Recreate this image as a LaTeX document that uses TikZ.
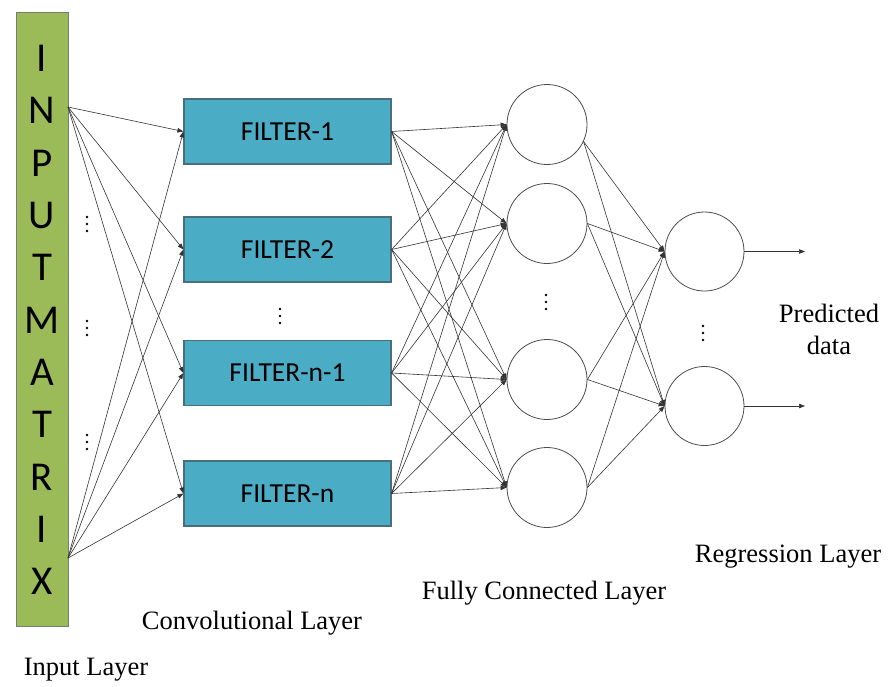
\documentclass[tikz,border=0pt]{standalone}
\usepackage{fontspec}
\setmainfont{Liberation Serif}
\newfontfamily\timesfont{Liberation Serif}
\newfontfamily\calfont{Carlito}
\usetikzlibrary{arrows.meta}
\definecolor{ingreen}{HTML}{9BBB59}
\definecolor{inborder}{HTML}{7A7A7A}
\definecolor{filterfill}{HTML}{4BACC6}
\definecolor{filterborder}{HTML}{4A6F7C}
\definecolor{linegray}{HTML}{333333}
\begin{document}
\begin{tikzpicture}[x=1pt,y=-1pt,
  inbox/.style={draw=inborder, line width=1pt, fill=ingreen, minimum width=52pt, minimum height=614pt, inner sep=0pt},
  letter/.style={font=\calfont\fontsize{41}{41}\selectfont, inner sep=0pt},
  filterbox/.style={draw=filterborder, line width=1.2pt, fill=filterfill, minimum width=207pt, minimum height=65pt, inner sep=0pt, font=\calfont\fontsize{27.5}{27.5}\selectfont},
  neuron/.style={circle, draw=black!70, line width=0.8pt, minimum size=80pt, inner sep=0pt},
  rneuron/.style={circle, draw=black!70, line width=0.8pt, minimum size=79pt, inner sep=0pt},
  conn/.style={draw=linegray, line width=0.6pt, -{Triangle[length=6pt,width=4.5pt]}},
  label/.style={font=\timesfont\fontsize{26.5}{32}\selectfont, inner sep=0pt, align=center},
  dot/.style={fill=black}
]
\useasboundingbox (0,0) rectangle (889,686);

% input matrix
\node[inbox] (in) at (42,319) {};
\foreach \ch [count=\i from 0] in {I,N,P,U,T,M,A,T,R,I,X} {
  \node[letter] (l\i) at (42,{58.5+52.3*\i}) {\ch};
}
\coordinate (inT) at (68,107);
\coordinate (inB) at (68,558);

% dots near input
\foreach \y in {224,328,442} {
  \foreach \d in {-7,0,7} \fill[dot] (87,\y+\d) circle (1.4pt);
}

% filters
\node[filterbox] (f1) at (287.5,131.5) {FILTER-1};
\node[filterbox] (f2) at (287.5,249.5) {FILTER-2};
\node[filterbox] (f3) at (287.5,373) {FILTER-n-1};
\node[filterbox] (f4) at (287.5,493.5) {FILTER-n};
\foreach \d in {-7,0,7} \fill[dot] (280,316+\d) circle (1.4pt);

% fully connected neurons
\node[neuron] (c1) at (547,124.5) {};
\node[neuron] (c2) at (547,223.5) {};
\node[neuron] (c3) at (547,379.5) {};
\node[neuron] (c4) at (547,487.5) {};
\foreach \d in {-7,0,7} \fill[dot] (546,302+\d) circle (1.4pt);

% regression neurons
\node[rneuron] (r1) at (704.5,251.5) {};
\node[rneuron] (r2) at (704.5,406) {};
\foreach \d in {-7,0,7} \fill[dot] (703,333+\d) circle (1.4pt);

% outputs
\coordinate (o1) at (805,251.5);
\coordinate (o2) at (805,406);

% input -> filters
\foreach \f in {f1,f2,f3,f4} {
  \draw[conn] (inT) -- (\f.west);
  \draw[conn] (inB) -- (\f.west);
}
% filters -> FC
\foreach \f in {f1,f2,f3,f4} {
  \foreach \c in {c1,c2,c3,c4} {
    \draw[conn] (\f.east) -- (\c.west);
  }
}
% FC -> regression
\foreach \r in {r1,r2} {
  \draw[conn] (c1.-25) -- (\r.west);
  \draw[conn] (c2.east) -- (\r.west);
  \draw[conn] (c3.east) -- (\r.west);
  \draw[conn] (c4.east) -- (\r.west);
}
% outputs
\draw[conn] (r1.east) -- (o1);
\draw[conn] (r2.east) -- (o2);

% labels
\node[label] (lp) at (829,329) {Predicted\\data};
\node[label] (lr) at (788,557) {Regression Layer};
\node[label] (lf) at (544,593) {Fully Connected Layer};
\node[label] (lc) at (252,623) {Convolutional Layer};
\node[label] (li) at (86,670) {Input Layer};
\end{tikzpicture}
\end{document}
